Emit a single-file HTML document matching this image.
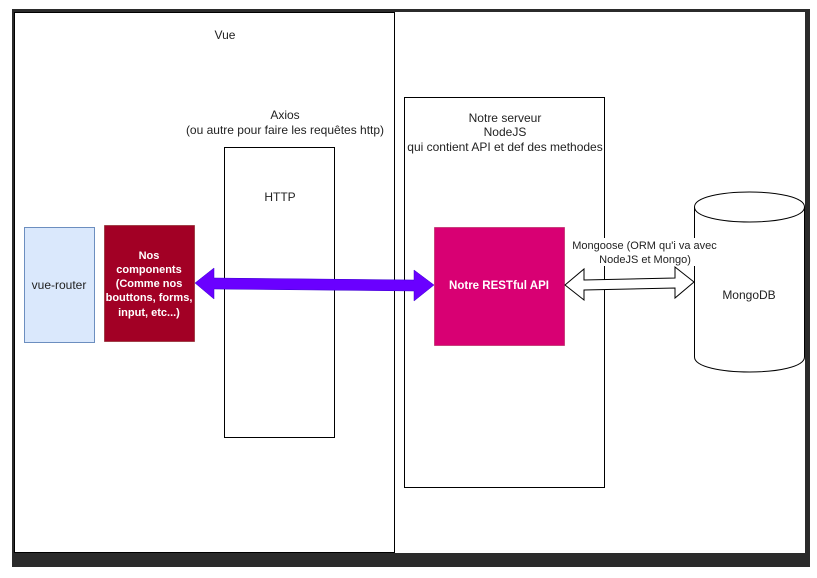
<!DOCTYPE html>
<html>
<head>
<meta charset="utf-8">
<style>
html,body{margin:0;padding:0;background:#fff;width:817px;height:578px;overflow:hidden}
svg{display:block}
text{font-family:"Liberation Sans",sans-serif;font-size:12px;fill:#222;text-anchor:middle}
.w{fill:#fff;font-weight:bold;font-size:11px}
.s{font-size:11px}
</style>
</head>
<body>
<svg width="817" height="578" viewBox="0 0 817 578" xmlns="http://www.w3.org/2000/svg">
<rect x="12" y="9" width="798" height="558" fill="#2b2b2b"/>
<rect x="15" y="12" width="790" height="541" fill="#fff"/>
<rect x="14.500" y="12.500" width="380" height="540" fill="#fff" stroke="#000"/>
<rect x="224.500" y="147.500" width="110" height="290" fill="#fff" stroke="#000"/>
<rect x="404.500" y="97.500" width="200" height="390" fill="#fff" stroke="#000"/>
<rect x="24.500" y="227.500" width="70" height="115" fill="#dae8fc" stroke="#6c8ebf"/>
<rect x="104.500" y="225.500" width="90" height="116" fill="#a20025" stroke="#6f0000" stroke-opacity=".5"/>
<rect x="434.500" y="227.500" width="130" height="118" fill="#d80073" stroke="#a50040" stroke-opacity=".5"/>
<path d="M694.500 207c0-20 110-20 110 0v150c0 20-110 20-110 0z" fill="#fff" stroke="#000"/>
<path d="M694.500 207c0 20 110 20 110 0" fill="none" stroke="#000"/>
<polygon points="195,283 214,268 214,278 414,280 414,270 434,285 414,301 414,291 214,289 214,299" fill="#6a00ff" stroke="#3700cc" stroke-width=".5"/>
<polygon points="565,285 584,269 584,280 675,278 675,267 694,282 675,298 675,288 584,290 584,300" fill="#fff" stroke="#000"/>
<rect x="572" y="238" width="146" height="28" fill="#fff"/>
<text x="225" y="39">Vue</text>
<text x="285" y="119">Axios</text>
<text x="285" y="134">(ou autre pour faire les requêtes http)</text>
<text x="280" y="201">HTTP</text>
<text x="505" y="122">Notre serveur</text>
<text x="505" y="136">NodeJS</text>
<text x="505" y="151">qui contient API et def des methodes</text>
<text x="59" y="289">vue-router</text>
<text class="w" x="149" y="259">Nos</text>
<text class="w" x="149" y="273">components</text>
<text class="w" x="149" y="287">(Comme nos</text>
<text class="w" x="149" y="301">bouttons, forms,</text>
<text class="w" x="149" y="316">input, etc...)</text>
<text class="w" x="499" y="289" style="font-size:11.500px">Notre RESTful API</text>
<text class="s" x="644.500" y="249">Mongoose (ORM qu'i va avec</text>
<text class="s" x="645" y="263">NodeJS et Mongo)</text>
<text x="749" y="299">MongoDB</text>
</svg>
</body>
</html>
